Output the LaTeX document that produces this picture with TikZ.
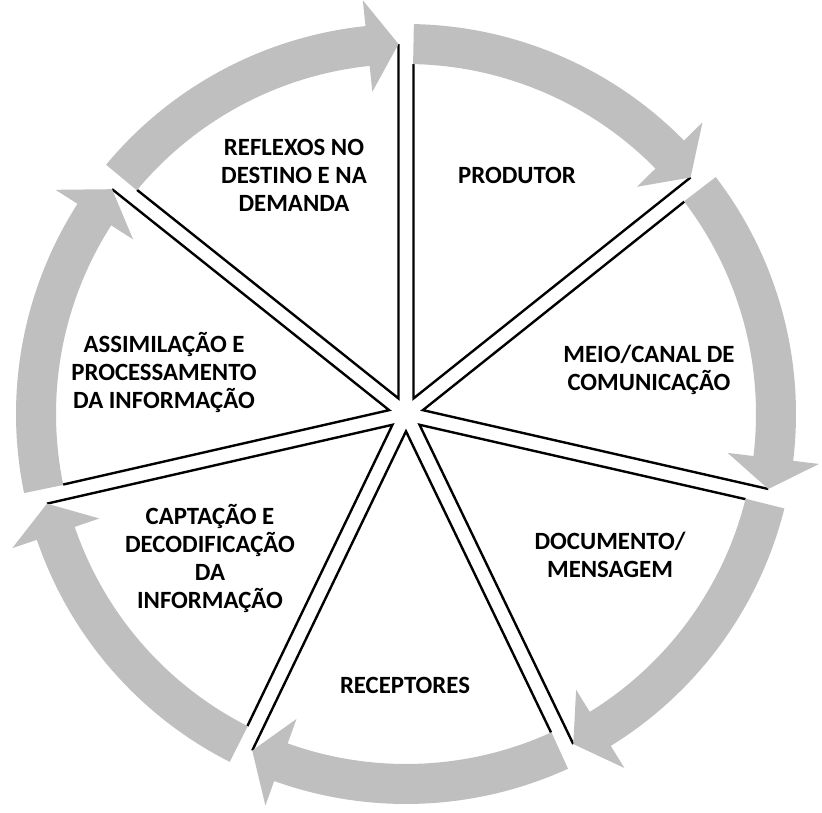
\documentclass[tikz,border=0pt]{standalone}
\usepackage{fontspec}
\setmainfont{Carlito}
\usetikzlibrary{calc}
\definecolor{ringgray}{RGB}{191,191,191}
\begin{document}
\begin{tikzpicture}[x=1pt,y=1pt,
  lbl/.style={font=\bfseries\fontsize{24.8}{28}\selectfont, align=center, text=black, inner sep=0pt},
  band/.style={fill=ringgray, draw=none},
  edgeline/.style={draw=black, line width=2.4pt, line join=miter}]
\useasboundingbox (-406,-399) rectangle (416,414);
\foreach \k in {0,...,6}{
  \pgfmathsetmacro{\A}{90-\k*360/7}
  \pgfmathsetmacro{\B}{\A-360/7}
  \pgfmathsetmacro{\M}{(\A+\B)/2}
  \pgfmathsetmacro{\S}{\A-1.16}
  \pgfmathsetmacro{\E}{\B+1.16}
  \pgfmathsetmacro{\H}{\E+4.8}
  \coordinate (apex\k) at (\M:17.3);
  \coordinate (tip\k) at ($(apex\k)+(\B:354.4)$);
  \coordinate (start\k) at ($(apex\k)+(\A:334.4)$);
  \draw[edgeline] (start\k) -- (apex\k) -- (tip\k);
  \fill[band] (\S:390) arc[start angle=\S, end angle=\H, radius=390] -- (\H:416) -- (tip\k) -- (\H:324) -- (\H:350) arc[start angle=\H, end angle=\S, radius=350] -- cycle;
}
\node[lbl] (produtor) at (111,239) {PRODUTOR};
\node[lbl] (meio) at (243,44) {MEIO/CANAL DE\\COMUNICAÇÃO};
\node[lbl] (documento) at (204,-141) {DOCUMENTO/\\MENSAGEM};
\node[lbl] (receptores) at (-1,-271) {RECEPTORES};
\node[lbl] (captacao) at (-196,-144) {CAPTAÇÃO E\\DECODIFICAÇÃO\\DA\\INFORMAÇÃO};
\node[lbl] (assimilacao) at (-242,42) {ASSIMILAÇÃO E\\PROCESSAMENTO\\DA INFORMAÇÃO};
\node[lbl] (reflexos) at (-112,239) {REFLEXOS NO\\DESTINO E NA\\DEMANDA};
\end{tikzpicture}
\end{document}
